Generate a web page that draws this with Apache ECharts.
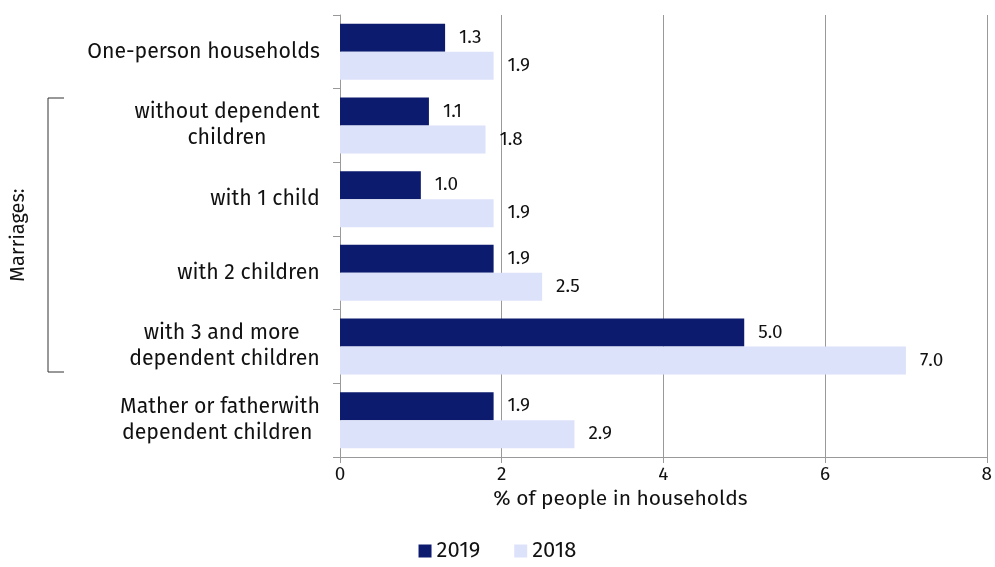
<!DOCTYPE html>
<html><head><meta charset="utf-8">
<script src="https://cdn.jsdelivr.net/npm/echarts@6/dist/echarts.min.js"></script>
<style>html,body{margin:0;background:#fff}#c{width:995px;height:567px}</style>
</head><body><div id="c"></div>
<script>
const categories = ['One-person households', 'without dependent\nchildren', 'with 1 child', 'with 2 children', 'with 3 and more \ndependent children', 'Mather or fatherwith\ndependent children '];
const values2019 = [1.3, 1.1, 1.0, 1.9, 5.0, 1.9];
const values2018 = [1.9, 1.8, 1.9, 2.5, 7.0, 2.9];
const xTicks = [0, 2, 4, 6, 8];

const font = 'Fira Sans, Noto Sans, sans-serif';
const labelSize = 21.3;

// 每个分类标签的最宽行宽度，用于块右对齐、行内居中
const ctx = document.createElement('canvas').getContext('2d');
ctx.font = labelSize + 'px ' + font;
const rich = {};
categories.forEach((c, i) => {
  const w = Math.max(...c.split('\n').map(s => ctx.measureText(s).width));
  rich['c' + i] = { width: Math.ceil(w), align: 'center', fontSize: labelSize, fontFamily: font, color: '#111', lineHeight: 26 };
});

const chart = echarts.init(document.getElementById('c'));
const lbl = { show: true, position: 'right', distance: 14, color: '#111', fontSize: 19, fontFamily: font, formatter: p => p.value.toFixed(1) };
chart.setOption({
  animation: false,
  grid: { left: 340, right: 2, top: 15, bottom: 110 },
  legend: {
    bottom: 0, left: 'center', itemWidth: 13, itemHeight: 13, itemGap: 34, icon: 'rect',
    textStyle: { fontSize: 22, fontFamily: font, color: '#111' },
    data: ['2019', '2018']
  },
  xAxis: {
    type: 'value', min: 0, max: 8, interval: 2,
    name: '% of people in households', nameLocation: 'middle', nameGap: 30,
    nameTextStyle: { fontSize: 21, fontFamily: font, color: '#111', padding: [0, 86, 0, 0] },
    axisLine: { show: true, lineStyle: { color: '#999' } },
    axisTick: { show: true, length: 6, lineStyle: { color: '#999' } },
    axisLabel: { fontSize: 19, fontFamily: font, color: '#111', formatter: v => xTicks.includes(v) ? String(v) : '' },
    splitLine: { lineStyle: { color: '#999' } }
  },
  yAxis: {
    type: 'category', inverse: true, data: categories,
    axisLine: { lineStyle: { color: '#999' } },
    axisTick: { show: true, length: 7, lineStyle: { color: '#999' } },
    axisLabel: {
      margin: 20, align: 'right',
      formatter: (v, i) => v.split('\n').map(s => '{c' + i + '|' + s + '}').join('\n'),
      rich: rich
    }
  },
  series: [
    { name: '2019', type: 'bar', data: values2019, barWidth: 28, barGap: '0%', itemStyle: { color: '#0d1b6e' }, label: lbl },
    { name: '2018', type: 'bar', data: values2018, barWidth: 28, itemStyle: { color: '#dce2fa' }, label: lbl }
  ],
  graphic: [
    { type: 'polyline', shape: { points: [[64, 98], [48, 98], [48, 372], [64, 372]] }, style: { stroke: '#333', lineWidth: 1, fill: null } },
    { type: 'text', x: 18, y: 235, rotation: Math.PI / 2, style: { text: 'Marriages:', fontSize: 20, fontFamily: font, fill: '#111', align: 'center', verticalAlign: 'middle' } }
  ]
});
</script></body></html>
